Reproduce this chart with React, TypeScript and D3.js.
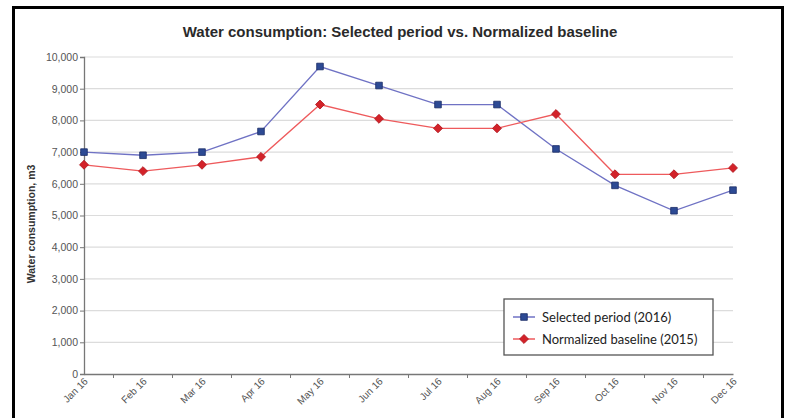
import React, { useRef, useEffect } from 'react'
import * as d3 from 'd3'

const months = ['Jan 16', 'Feb 16', 'Mar 16', 'Apr 16', 'May 16', 'Jun 16', 'Jul 16', 'Aug 16', 'Sep 16', 'Oct 16', 'Nov 16', 'Dec 16']
const selected2016 = [7000, 6900, 7000, 7650, 9700, 9100, 8500, 8500, 7100, 5950, 5150, 5800]
const baseline2015 = [6600, 6400, 6600, 6850, 8500, 8050, 7750, 7750, 8200, 6300, 6300, 6500]
const yTicks = [0, 1000, 2000, 3000, 4000, 5000, 6000, 7000, 8000, 9000, 10000]

const title = 'Water consumption: Selected period vs. Normalized baseline'
const yTitle = 'Water consumption, m3'
const legendNames = ['Selected period (2016)', 'Normalized baseline (2015)']

export default function App() {
  const ref = useRef<SVGSVGElement>(null)

  useEffect(() => {
    const svg = d3.select(ref.current)
    svg.selectAll('*').remove()

    const width = 789
    const height = 418
    const margin = { top: 57, right: 56, bottom: 44, left: 84 }
    const innerWidth = width - margin.left - margin.right
    const innerHeight = height - margin.top - margin.bottom

    svg.append('rect').attr('width', width).attr('height', height).attr('fill', '#fff')

    // frame
    svg.append('path')
      .attr('d', `M13.5,${height + 5} V7.5 H782.5 V${height + 5}`)
      .attr('fill', 'none').attr('stroke', '#000').attr('stroke-width', 3)

    svg.append('text')
      .attr('x', 400).attr('y', 37)
      .attr('text-anchor', 'middle')
      .style('font', 'bold 15px "Liberation Sans", Arial, sans-serif')
      .attr('fill', '#2a2a2a')
      .text(title)

    const xScale = d3.scalePoint().domain(months).range([0, innerWidth])
    const yScale = d3.scaleLinear().domain([0, 10000]).range([innerHeight, 0])

    const g = svg.append('g').attr('transform', `translate(${margin.left},${margin.top})`)

    // gridlines
    g.selectAll('.grid').data(yTicks.slice(1)).enter().append('line')
      .attr('x1', 0).attr('x2', innerWidth)
      .attr('y1', d => yScale(d)).attr('y2', d => yScale(d))
      .attr('stroke', '#dcdcdc').attr('stroke-width', 1.2)

    const yAxis = g.append('g')
      .call(d3.axisLeft(yScale).tickValues(yTicks).tickFormat(d3.format(',')).tickSize(4).tickPadding(2))
    yAxis.select('.domain').attr('stroke', '#777').attr('stroke-width', 1.3)
    yAxis.selectAll('.tick line').attr('stroke', '#777')
    yAxis.selectAll('text').attr('fill', '#555')
      .style('font', '10.5px "Liberation Sans", Arial, sans-serif')

    // x axis
    const step = xScale.step()
    const xAxis = g.append('g').attr('transform', `translate(0,${innerHeight})`)
      .call(d3.axisBottom(xScale).tickSize(0).tickPadding(0))
    xAxis.select('.domain').attr('stroke', '#777').attr('stroke-width', 1.3)
    xAxis.selectAll('.tick text')
      .attr('fill', '#555')
      .style('font', '10px "Liberation Sans", Arial, sans-serif')
      .attr('text-anchor', 'end')
      .attr('dy', 0)
      .attr('transform', 'translate(4,8) rotate(-45)')
    xAxis.selectAll('.midtick').data(months.slice(1)).enter().append('line')
      .attr('x1', d => (xScale(d) as number) - step / 2)
      .attr('x2', d => (xScale(d) as number) - step / 2)
      .attr('y1', 0).attr('y2', 4)
      .attr('stroke', '#777')

    // y title
    svg.append('text')
      .attr('transform', `translate(35,224) rotate(-90)`)
      .attr('text-anchor', 'middle')
      .style('font', 'bold 10.5px "Liberation Sans", Arial, sans-serif')
      .attr('fill', '#333')
      .text(yTitle)

    const series = [
      { values: selected2016, line: '#6f72c4', fill: '#2d4a94', stroke: '#1b2c66', shape: d3.symbolSquare, size: 44, rot: 0 },
      { values: baseline2015, line: '#ee5a5c', fill: '#d32229', stroke: '#b01820', shape: d3.symbolSquare, size: 40, rot: 45 },
    ]

    const line = d3.line<number>()
      .x((_, i) => xScale(months[i]) as number)
      .y(d => yScale(d))

    series.forEach(s => {
      g.append('path').datum(s.values)
        .attr('d', line)
        .attr('fill', 'none').attr('stroke', s.line).attr('stroke-width', 1.3)
      g.selectAll(null).data(s.values).enter().append('path')
        .attr('d', d3.symbol().type(s.shape).size(s.size))
        .attr('transform', (d, i) => `translate(${xScale(months[i])},${yScale(d)}) rotate(${s.rot})`)
        .attr('fill', s.fill).attr('stroke', s.stroke).attr('stroke-width', 0.8)
    })

    // legend
    const lg = svg.append('g').attr('transform', 'translate(504,299)')
    lg.append('rect').attr('width', 209).attr('height', 56)
      .attr('fill', '#fff').attr('stroke', '#555').attr('stroke-width', 1.3)
    series.forEach((s, i) => {
      const y = 18 + i * 22
      lg.append('line').attr('x1', 9).attr('x2', 31).attr('y1', y).attr('y2', y)
        .attr('stroke', s.line).attr('stroke-width', 1.5)
      lg.append('path')
        .attr('d', d3.symbol().type(s.shape).size(s.size)())
        .attr('transform', `translate(20,${y}) rotate(${s.rot})`)
        .attr('fill', s.fill).attr('stroke', s.stroke).attr('stroke-width', 0.8)
      lg.append('text').attr('x', 38).attr('y', y + 4.5)
        .style('font', '13px Lato, "Liberation Sans", sans-serif')
        .attr('fill', '#222')
        .text(legendNames[i])
    })
  }, [])

  return (
    <div>
      <svg ref={ref} width={789} height={418} style={{ position: 'absolute', left: 0, top: 0 }} />
    </div>
  )
}
